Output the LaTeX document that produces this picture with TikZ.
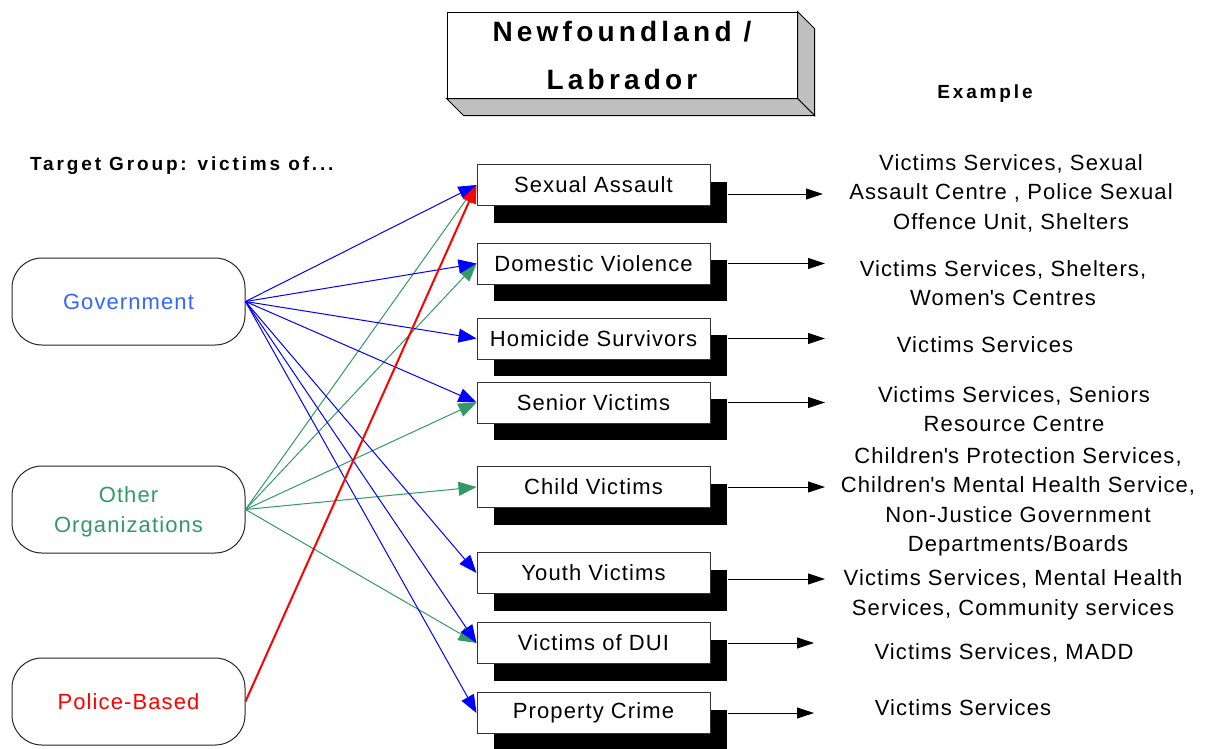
\documentclass[tikz,border=0pt]{standalone}
\usepackage{fontspec}
\setmainfont{Liberation Sans}[LetterSpace=5]
\newfontfamily\titlefont{Liberation Sans}[LetterSpace=15]
\newfontfamily\headfont{Liberation Sans}[LetterSpace=15]
\usetikzlibrary{arrows.meta,shadows}
\definecolor{govblue}{HTML}{0000FF}
\definecolor{govtext}{HTML}{3366FF}
\definecolor{orggreen}{HTML}{339966}
\definecolor{policered}{HTML}{FF0000}
\definecolor{sidegray}{HTML}{C0C0C0}
\tikzset{
  titlebox/.style={draw=black,fill=white,line width=1pt,minimum width=350pt,minimum height=86pt,
    align=center,font=\titlefont\bfseries\fontsize{28}{48}\selectfont},
  heading/.style={inner sep=0pt,font=\headfont\bfseries\fontsize{19}{22}\selectfont},
  group/.style={draw=black!85,fill=white,line width=1pt,rounded corners=30pt,align=center,
    minimum width=233pt,minimum height=87pt,font=\fontsize{22}{30}\selectfont},
  target/.style={draw=black!80,fill=white,line width=1pt,inner sep=0pt,
    minimum width=233pt,minimum height=41pt,font=\fontsize{22}{30}\selectfont,
    drop shadow={shadow xshift=17pt,shadow yshift=-17pt,fill=black,opacity=1}},
  example/.style={align=center,inner sep=0pt,font=\fontsize{22}{29.5}\selectfont},
  govarrow/.style={-{Triangle[length=18pt,width=14pt]},draw=govblue,line width=1pt},
  orgarrow/.style={-{Triangle[length=18pt,width=14pt]},draw=orggreen,line width=1pt},
  polarrow/.style={-{Triangle[length=18pt,width=14pt]},draw=policered,line width=2pt},
  outarrow/.style={-{Triangle[length=17pt,width=11pt]},draw=black,line width=1pt}
}
\begin{document}
\begin{tikzpicture}[x=1pt,y=-1pt]
  \useasboundingbox (0,0) rectangle (1207,748);
  % title block
  \node[titlebox] (title) at (622,55) {Newfoundland /\\Labrador};
  \draw[fill=sidegray,line width=1pt] (title.north east) -- ++(17,17) -- ([shift={(17,17)}]title.south east) -- (title.south east) -- cycle;
  \draw[fill=sidegray,line width=1pt] (title.south west) -- ([shift={(17,17)}]title.south west) -- ([shift={(17,17)}]title.south east) -- (title.south east) -- cycle;
  \node[heading,anchor=west] (tg) at (30,166) {Target Group: victims of...};
  \node[heading] (exhead) at (985,94) {Example};
  % groups
  \node[group,text=govtext] (gov) at (128.5,301.5) {Government};
  \node[group,text=orggreen] (org) at (128.5,509.5) {\strut Other\\Organizations};
  \node[group,text=policered] (pol) at (128.5,701.5) {Police-Based};
  % target boxes
  \node[target] (sa) at (593.5,185) {Sexual Assault};
  \node[target] (dv) at (593.5,263.5) {Domestic Violence};
  \node[target] (hs) at (593.5,338.5) {Homicide Survivors};
  \node[target] (sv) at (593.5,402.5) {Senior Victims};
  \node[target] (cv) at (593.5,487) {Child Victims};
  \node[target] (yv) at (593.5,573) {Youth Victims};
  \node[target] (dui) at (593.5,643) {Victims of DUI};
  \node[target] (pc) at (593.5,713) {Property Crime};
  % examples
  \node[example] (sa-ex) at (1011,193) {Victims Services, Sexual\\Assault Centre , Police Sexual\\Offence Unit, Shelters};
  \node[example] (dv-ex) at (1003,283) {Victims Services, Shelters,\\Women\textquotesingle s Centres};
  \node[example] (hs-ex) at (985,345) {Victims Services};
  \node[example] (sv-ex) at (1014,409) {Victims Services, Seniors\\Resource Centre};
  \node[example] (cv-ex) at (1018,502) {Children\textquotesingle s Protection Services,\\Children\textquotesingle s Mental Health Service,\\Non-Justice Government\\Departments/Boards};
  \node[example] (yv-ex) at (1013,595) {Victims Services, Mental Health\\Services, Community services};
  \node[example] (dui-ex) at (1004,653) {Victims Services, MADD};
  \node[example] (pc-ex) at (963,708) {Victims Services};
  % arrows to examples
  \coordinate (sa-out) at (823,194);
  \coordinate (yv-out) at (825,579);
  \coordinate (out) at (825,0);
  \coordinate (out2) at (814,0);
  \draw[outarrow] ([xshift=17pt,yshift=-9pt]sa.east) -- (sa-out);
  \draw[outarrow] ([xshift=17pt]dv.east) -- (dv.east -| out);
  \draw[outarrow] ([xshift=17pt]hs.east) -- (hs.east -| out);
  \draw[outarrow] ([xshift=17pt]sv.east) -- (sv.east -| out);
  \draw[outarrow] ([xshift=17pt]cv.east) -- (cv.east -| out);
  \draw[outarrow] ([xshift=17pt,yshift=-6pt]yv.east) -- (yv-out);
  \draw[outarrow] ([xshift=17pt]dui.east) -- (dui.east -| out2);
  \draw[outarrow] ([xshift=17pt]pc.east) -- (pc.east -| out2);
  % connectors
  \path (org.east) edge[orgarrow] (sa.west) edge[orgarrow] (dv.west) edge[orgarrow] (sv.west)
    edge[orgarrow] (cv.west) edge[orgarrow] (dui.west);
  \path (gov.east) edge[govarrow] (sa.west) edge[govarrow] (dv.west) edge[govarrow] (hs.west)
    edge[govarrow] (sv.west) edge[govarrow] (yv.west) edge[govarrow] (dui.west) edge[govarrow] (pc.west);
  \draw[polarrow] (pol.east) -- (sa.west);
\end{tikzpicture}
\end{document}
